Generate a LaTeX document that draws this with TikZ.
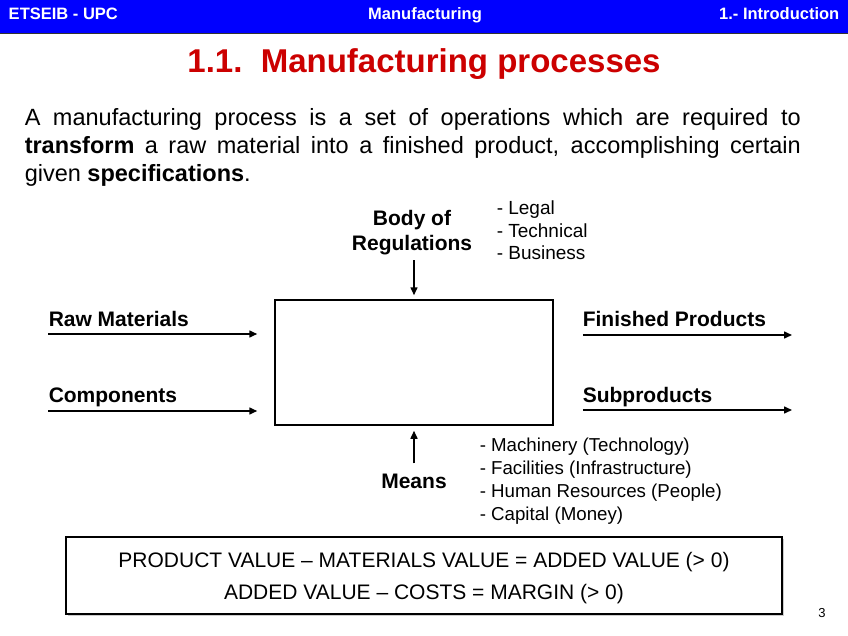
\documentclass[tikz,border=0pt]{standalone}
\usepackage{fontspec}
\setmainfont{Liberation Sans}
\usetikzlibrary{arrows.meta}

\definecolor{barblue}{RGB}{0,0,255}
\definecolor{titlered}{RGB}{204,0,0}

\tikzset{
  headtext/.style={text=white,font=\fontsize{16.5}{18}\selectfont\bfseries,inner sep=0},
  tag/.style={font=\fontsize{21}{25}\selectfont\bfseries,inner sep=0},
  itemlist/.style={font=\fontsize{19}{22.5}\selectfont,align=left,inner sep=0,anchor=north west},
  flow/.style={line width=1.5pt,-{Triangle[length=8pt,width=7pt]}},
}

\begin{document}
\begin{tikzpicture}[x=1pt,y=-1pt,line width=1.5pt]
  \useasboundingbox (0,0) rectangle (848,636);

  % Header bar.
  \fill[barblue] (0,0) rectangle (848,34);
  \draw[line width=1pt,black!80] (0,34) -- (848,34);
  \node[headtext,anchor=base west] (school) at (8,20) {ETSEIB - UPC};
  \node[headtext,anchor=base] (subject) at (425,20) {Manufacturing};
  \node[headtext,anchor=base east] (chapter) at (840,20) {1.- Introduction};

  % Title and definition.
  \node[text=titlered,font=\fontsize{33}{36}\selectfont\bfseries,anchor=base,inner sep=0] (title) at (424,73) {1.1.\ \ Manufacturing processes};
  \node[font=\fontsize{23.5}{28}\selectfont,text width=776,align=justify,anchor=north west,inner sep=0] (definition) at (24,108)
    {A manufacturing process is a set of operations which are required to\linebreak
     \textbf{transform} a raw material into a finished product, accomplishing certain\linebreak
     given \textbf{specifications}.};

  % The process box.
  \node[draw,minimum width=278,minimum height=125,inner sep=0] (process) at (414,362.5) {};

  % Regulations on top.
  \node[tag,align=center] (regs) at (412,233) {Body of\\Regulations};
  \node[itemlist] (regslist) at (496,200) {- Legal\\- Technical\\- Business};
  \draw[flow] (process.north |- regs.south) ++(0,4) -- ([yshift=4pt]process.north);

  % Inputs.
  \node[tag,anchor=base west] (raw) at (48,326.5) {Raw Materials};
  \node[tag,anchor=base west] (comp) at (48,402.5) {Components};
  \coordinate (rawin) at (48,334);
  \coordinate (compin) at (48,411);
  \draw[flow] (rawin) -- ([xshift=-17pt]process.west |- rawin);
  \draw[flow] (compin) -- ([xshift=-17pt]process.west |- compin);

  % Outputs.
  \node[tag,anchor=base west] (fin) at (582,326.5) {Finished Products};
  \node[tag,anchor=base west] (sub) at (582,402.5) {Subproducts};
  \coordinate (finout) at (792,335);
  \coordinate (subout) at (792,410);
  \draw[flow] ([xshift=29pt]process.east |- finout) -- (finout);
  \draw[flow] ([xshift=29pt]process.east |- subout) -- (subout);

  % Means at the bottom.
  \node[tag,anchor=base] (means) at (414,488.5) {Means};
  \node[itemlist,font=\fontsize{18.7}{23}\selectfont] (meanslist) at (479,437)
    {- Machinery (Technology)\\- Facilities (Infrastructure)\\- Human Resources (People)\\- Capital (Money)};
  \draw[flow] ([yshift=10pt]means.north) -- ([yshift=-5pt]process.south);

  % Value equations.
  \fill[black!20] (68,539) rectangle (784,616);
  \node[draw,fill=white,minimum width=716,minimum height=77,inner sep=0] (values) at (424,575.5) {};
  \node[font=\fontsize{21}{32}\selectfont,align=center,inner sep=0] (valuetext) at ([yshift=-3pt]values.center)
    {PRODUCT VALUE -- MATERIALS VALUE = ADDED VALUE (> 0)\\ADDED VALUE -- COSTS = MARGIN (> 0)};

  \node[font=\fontsize{13}{15}\selectfont,anchor=base,inner sep=0] (page) at (822,617) {3};
\end{tikzpicture}
\end{document}
